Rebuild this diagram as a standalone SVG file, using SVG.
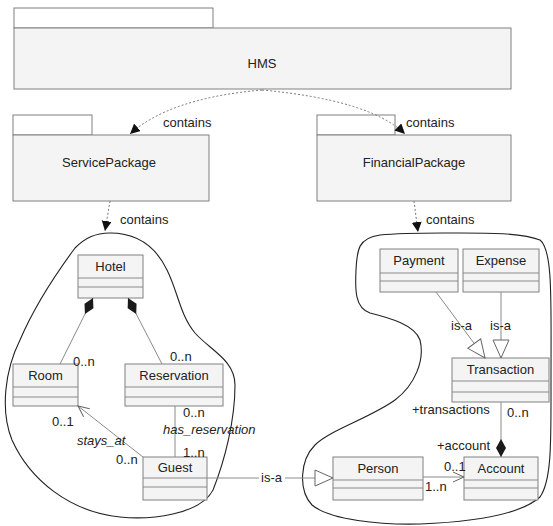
<svg xmlns="http://www.w3.org/2000/svg" width="553" height="526" viewBox="0 0 553 526">
<style>
text{font-family:"Liberation Sans",Arial,sans-serif;fill:#222;font-size:13px}
.nm{font-size:13px;text-anchor:middle}
.it{font-style:italic}
.box{fill:#f4f4f4;stroke:#808080;stroke-width:1}
.ln{fill:none;stroke:#8a8a8a;stroke-width:1}
.dep{fill:none;stroke:#777;stroke-width:1;stroke-dasharray:2,2}
.blob{fill:none;stroke:#222;stroke-width:1.1}
</style>
<defs>
<marker id="dep" markerUnits="userSpaceOnUse" markerWidth="14" markerHeight="12" refX="10" refY="5" orient="auto" viewBox="0 0 14 12"><path d="M0,0 L10,5 L0,10 Z" fill="#111"/></marker>
<marker id="dia" markerUnits="userSpaceOnUse" markerWidth="22" markerHeight="14" refX="0" refY="6" orient="auto" viewBox="0 0 22 14"><path d="M0,6 L9,1 L18,6 L9,11 Z" fill="#1a1a1a"/></marker>
<marker id="open" markerUnits="userSpaceOnUse" markerWidth="14" markerHeight="14" refX="12" refY="6" orient="auto" viewBox="0 0 14 14"><path d="M1,1 L12,6 L1,11" fill="none" stroke="#666" stroke-width="1"/></marker>
<marker id="gen" markerUnits="userSpaceOnUse" markerWidth="22" markerHeight="20" refX="19" refY="9" orient="auto" viewBox="0 0 22 20"><path d="M1,1 L19,9 L1,17 Z" fill="#fff" stroke="#666" stroke-width="1"/></marker>
</defs>

<g id="blobs">
<path class="blob" d="M110,233 C135,233 155,245 167,270 C178,292 180,315 195,333 C210,350 235,360 235,385 C235,420 225,460 213,490 C200,515 150,520 120,517 C70,512 30,480 12,440 C0,410 5,370 20,340 C35,305 55,275 75,248 C85,238 95,233 110,233 Z"/>
<path class="blob" d="M443,233 C480,233 520,232 540,240 C553,250 551,300 551,380 C551,440 552,480 540,497 C520,515 470,522 420,524 C380,525 330,520 312,505 C298,490 300,460 315,445 C330,430 370,418 395,400 C415,385 425,360 420,340 C415,325 390,318 370,313 C355,308 355,290 356,270 C357,250 358,238 380,235 C400,233 420,233 443,233 Z"/>
</g>

<g id="HMS">
<rect class="box" x="14" y="8" width="199" height="20" style="fill:#fff"/>
<rect class="box" x="14" y="28" width="497" height="61"/>
<text class="nm" x="262" y="68">HMS</text>
</g>
<g id="ServicePackage">
<rect class="box" x="13" y="115" width="79" height="20" style="fill:#fff"/>
<rect class="box" x="13" y="135" width="196" height="66"/>
<text class="nm" x="109" y="167">ServicePackage</text>
</g>
<g id="FinancialPackage">
<rect class="box" x="317" y="115" width="78" height="20" style="fill:#fff"/>
<rect class="box" x="317" y="135" width="194" height="66"/>
<text class="nm" x="414" y="167">FinancialPackage</text>
</g>

<g id="Hotel">
<rect class="box" x="78" y="255" width="65" height="43"/>
<line class="ln" x1="78" y1="278" x2="143" y2="278"/><line class="ln" x1="78" y1="287" x2="143" y2="287"/>
<text class="nm" x="110.5" y="271">Hotel</text>
</g>
<g id="Room">
<rect class="box" x="13" y="364" width="65" height="42"/>
<line class="ln" x1="13" y1="387" x2="78" y2="387"/><line class="ln" x1="13" y1="397" x2="78" y2="397"/>
<text class="nm" x="45.5" y="380">Room</text>
</g>
<g id="Reservation">
<rect class="box" x="125" y="364" width="98" height="42"/>
<line class="ln" x1="125" y1="387" x2="223" y2="387"/><line class="ln" x1="125" y1="397" x2="223" y2="397"/>
<text class="nm" x="174" y="380">Reservation</text>
</g>
<g id="Guest">
<rect class="box" x="143" y="457" width="64" height="43"/>
<line class="ln" x1="143" y1="478" x2="207" y2="478"/><line class="ln" x1="143" y1="487" x2="207" y2="487"/>
<text class="nm" x="175" y="472">Guest</text>
</g>
<g id="Payment">
<rect class="box" x="380" y="249" width="78" height="43"/>
<line class="ln" x1="380" y1="273" x2="458" y2="273"/><line class="ln" x1="380" y1="281" x2="458" y2="281"/>
<text class="nm" x="419" y="265">Payment</text>
</g>
<g id="Expense">
<rect class="box" x="463" y="249" width="76" height="43"/>
<line class="ln" x1="463" y1="273" x2="539" y2="273"/><line class="ln" x1="463" y1="281" x2="539" y2="281"/>
<text class="nm" x="501" y="265">Expense</text>
</g>
<g id="Transaction">
<rect class="box" x="452" y="358" width="97" height="44"/>
<line class="ln" x1="452" y1="381" x2="549" y2="381"/><line class="ln" x1="452" y1="392" x2="549" y2="392"/>
<text class="nm" x="500.5" y="374">Transaction</text>
</g>
<g id="Person">
<rect class="box" x="333" y="457" width="90" height="43"/>
<line class="ln" x1="333" y1="480" x2="423" y2="480"/><line class="ln" x1="333" y1="488" x2="423" y2="488"/>
<text class="nm" x="378" y="473">Person</text>
</g>
<g id="Account">
<rect class="box" x="464" y="457" width="74" height="43"/>
<line class="ln" x1="464" y1="480" x2="538" y2="480"/><line class="ln" x1="464" y1="488" x2="538" y2="488"/>
<text class="nm" x="501" y="473">Account</text>
</g>

<g id="connectors">
<path class="dep" d="M262,90 Q170,98 130,134" marker-end="url(#dep)"/>
<path class="dep" d="M262,90 Q370,100 405,134" marker-end="url(#dep)"/>
<path class="dep" d="M110,201 L105,231" marker-end="url(#dep)"/>
<path class="dep" d="M414,201 L418,232" marker-end="url(#dep)"/>
<path class="ln" d="M93,298 L60,364" marker-start="url(#dia)"/>
<path class="ln" d="M128,298 L162,364" marker-start="url(#dia)"/>
<path class="ln" d="M175,406 L175,457"/>
<path class="ln" d="M143,457 L78,406" marker-end="url(#open)"/>
<path class="ln" d="M207,478 L259,478"/>
<path class="ln" d="M285,478 L333,478" marker-end="url(#gen)"/>
<path class="ln" d="M423,477 L464,477" marker-end="url(#open)"/>
<path class="ln" d="M436,292 L485,358" marker-end="url(#gen)"/>
<path class="ln" d="M501,292 L501,358" marker-end="url(#gen)"/>
<path class="ln" d="M501,457 L501,402" marker-start="url(#dia)"/>
</g>

<g id="labels">
<text x="163" y="127">contains</text>
<text x="406" y="127">contains</text>
<text x="120" y="224">contains</text>
<text x="426" y="224">contains</text>
<text x="73" y="366">0..n</text>
<text x="170" y="361">0..n</text>
<text x="52" y="426">0..1</text>
<text class="it" x="77" y="445">stays_at</text>
<text x="116" y="464">0..n</text>
<text x="183" y="417">0..n</text>
<text class="it" x="163" y="434">has_reservation</text>
<text x="183" y="457">1..n</text>
<text x="261" y="482">is-a</text>
<text x="451" y="330">is-a</text>
<text x="490" y="330">is-a</text>
<text x="412" y="414">+transactions</text>
<text x="507" y="417">0..n</text>
<text x="437" y="450">+account</text>
<text x="444" y="471">0..1</text>
<text x="425" y="491">1..n</text>
</g>
</svg>
